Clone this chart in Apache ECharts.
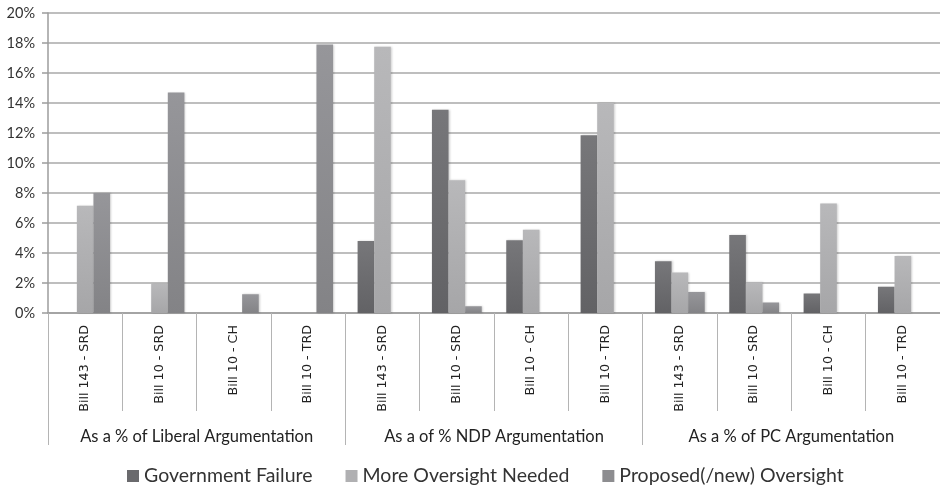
<!DOCTYPE html>
<html>
<head>
<meta charset="utf-8">
<script src="https://cdn.jsdelivr.net/npm/echarts@6/dist/echarts.min.js"></script>
<style>
  html, body { margin: 0; padding: 0; background: #fff; }
  #chart { width: 940px; height: 488px; }
</style>
</head>
<body>
<div id="chart"></div>
<script>
// Bills per party, grouped by party argumentation
const categories = [
  'Bill 143 - SRD', 'Bill 10 - SRD', 'Bill 10 - CH', 'Bill 10 - TRD',
  'Bill 143 - SRD', 'Bill 10 - SRD', 'Bill 10 - CH', 'Bill 10 - TRD',
  'Bill 143 - SRD', 'Bill 10 - SRD', 'Bill 10 - CH', 'Bill 10 - TRD'
];
const groups = [
  'As a % of Liberal Argumentation',
  'As a of % NDP Argumentation',
  'As a % of PC Argumentation'
];
const seriesNames = ['Government Failure', 'More Oversight Needed', 'Proposed(/new) Oversight'];

// Shares in percent
const governmentFailure = [0, 0, 0, 0, 4.8, 13.55, 4.85, 11.85, 3.45, 5.2, 1.3, 1.75];
const moreOversight     = [7.15, 1.95, 0, 0, 17.75, 8.85, 5.55, 14.0, 2.7, 2.05, 7.3, 3.8];
const proposedOversight = [8.0, 14.7, 1.25, 17.9, 0, 0.45, 0, 0, 1.4, 0.7, 0, 0];

const yTicks = { min: 0, max: 20, interval: 2 };

const FONT = 'Lato, "Open Sans", sans-serif';
const CAT_FONT = '"DejaVu Sans", Verdana, sans-serif';

function grad(top, bottom) {
  return new echarts.graphic.LinearGradient(0, 0, 0, 1, [
    { offset: 0, color: top },
    { offset: 1, color: bottom }
  ]);
}

const palette = [
  { top: '#77777a', bottom: '#626265', legend: '#6a6a6d' },
  { top: '#b8b8ba', bottom: '#a6a6a8', legend: '#b0b0b2' },
  { top: '#96969a', bottom: '#838386', legend: '#8d8d90' }
];

const values = [governmentFailure, moreOversight, proposedOversight];

const chart = echarts.init(document.getElementById('chart'), null, { renderer: 'canvas' });

chart.setOption({
  animation: false,
  backgroundColor: '#ffffff',
  legend: {
    top: 461,
    left: 122,
    itemWidth: 12,
    itemHeight: 12,
    itemGap: 33,
    icon: 'rect',
    textStyle: { fontFamily: FONT, fontSize: 19.5, color: '#333333' },
    data: seriesNames.map((n, i) => ({ name: n, itemStyle: { color: palette[i].legend } }))
  },
  grid: { left: 48, right: -6, top: 13, bottom: 175, containLabel: false },
  xAxis: [
    {
      // individual bills
      type: 'category',
      data: categories,
      position: 'bottom',
      axisLine: { show: true, lineStyle: { color: '#9c9c9c', width: 1.5 } },
      axisTick: { show: true, alignWithLabel: false, interval: 0, length: 98, lineStyle: { color: '#b4b4b4', width: 1 } },
      axisLabel: {
        interval: 0, rotate: 90, margin: 12,
        fontFamily: CAT_FONT, fontSize: 12.7, color: '#222222'
      },
      splitLine: { show: false }
    },
    {
      // party groups underneath
      type: 'category',
      data: groups,
      position: 'bottom',
      axisLine: { show: false },
      axisTick: { show: true, interval: 0, length: 132, lineStyle: { color: '#b4b4b4', width: 1 } },
      axisLabel: { interval: 0, margin: 115, fontFamily: FONT, fontSize: 16.5, color: '#222222' },
      splitLine: { show: false }
    }
  ],
  yAxis: {
    type: 'value',
    min: yTicks.min,
    max: yTicks.max,
    interval: yTicks.interval,
    axisLine: { show: true, lineStyle: { color: '#9c9c9c', width: 1.5 } },
    axisTick: { show: true, length: 6, lineStyle: { color: '#9c9c9c', width: 1.5 } },
    axisLabel: { margin: 13, fontFamily: FONT, fontSize: 14.5, color: '#333333', formatter: v => v + '%' },
    splitLine: { show: true, lineStyle: { color: '#a8a8a8', width: 1.5 } }
  },
  series: seriesNames.map((name, i) => ({
    name: name,
    type: 'bar',
    xAxisIndex: 0,
    data: values[i],
    barGap: '0%',
    barCategoryGap: '33%',
    itemStyle: {
      color: grad(palette[i].top, palette[i].bottom),
      shadowColor: 'rgba(0,0,0,0.18)',
      shadowBlur: 2,
      shadowOffsetX: 1,
      shadowOffsetY: 0
    }
  }))
});
</script>
</body>
</html>
